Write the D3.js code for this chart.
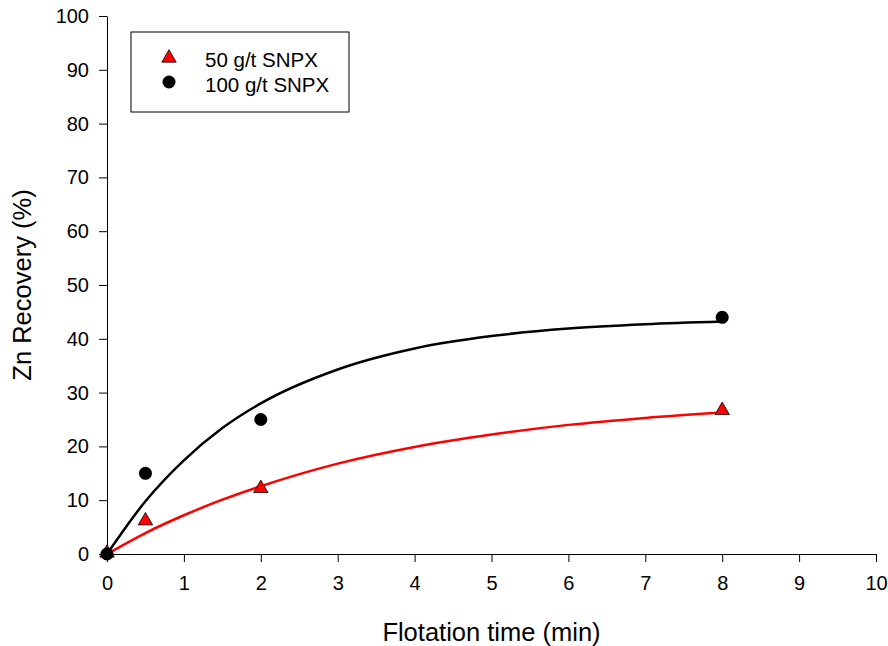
<!DOCTYPE html>
<html>
<head>
<meta charset="utf-8">
<script src="https://cdn.jsdelivr.net/npm/d3@7"></script>
<style>
  body { margin: 0; background: #fff; }
  svg { display: block; font-family: "Liberation Sans", Arial, sans-serif; }
  .tick text { font-size: 20px; fill: #000; }
  .tick line, .domain { stroke: #000; stroke-width: 1; }
</style>
</head>
<body>
<div id="chart"></div>
<script>
// measured points
const times = [0, 0.5, 2, 8];
const low = [0, 6, 12, 26.5];     // 50 g/t SNPX
const high = [0, 15, 25, 44];     // 100 g/t SNPX

// fitted curves
const fitTimes = [0, 0.5, 1, 1.5, 2, 3, 4, 5, 6, 7, 8];
const lowFit = [0, 3.9, 7.2, 10.1, 12.6, 16.8, 19.9, 22.2, 24.0, 25.3, 26.3];
const highFit = [0, 9.8, 17.4, 23.4, 28.0, 34.3, 38.2, 40.5, 41.9, 42.7, 43.2];

const xTicks = d3.range(0, 11, 1);
const yTicks = d3.range(0, 101, 10);

const width = 888;
const height = 646;
const margin = { top: 16, right: 12, bottom: 92, left: 107 };

const svg = d3.select('#chart')
  .append('svg')
  .attr('width', width)
  .attr('height', height);

const x = d3.scaleLinear().domain([0, 10]).range([margin.left, width - margin.right]);
const y = d3.scaleLinear().domain([0, 100]).range([height - margin.bottom, margin.top]);

svg.append('g')
  .attr('transform', `translate(0,${y(0)})`)
  .call(d3.axisBottom(x).tickValues(xTicks).tickSize(8).tickSizeOuter(0).tickPadding(14))
  .call((g) => g.selectAll('.tick text').attr('dy', '0.71em'));

svg.append('g')
  .attr('transform', `translate(${x(0)},0)`)
  .call(d3.axisLeft(y).tickValues(yTicks).tickSize(8).tickSizeOuter(0).tickPadding(10));

svg.append('text')
  .attr('x', (x(0) + x(10)) / 2)
  .attr('y', 641)
  .attr('text-anchor', 'middle')
  .attr('font-size', 25.5)
  .text('Flotation time (min)');

svg.append('text')
  .attr('transform', `translate(31,${(y(0) + y(100)) / 2}) rotate(-90)`)
  .attr('text-anchor', 'middle')
  .attr('font-size', 25.5)
  .text('Zn Recovery (%)');

const line = d3.line()
  .x((d) => x(d[0]))
  .y((d) => y(d[1]))
  .curve(d3.curveMonotoneX);

svg.append('path')
  .datum(fitTimes.map((t, i) => [t, lowFit[i]]))
  .attr('fill', 'none')
  .attr('stroke', '#ff0000')
  .attr('stroke-width', 2.5)
  .attr('d', line);

svg.append('path')
  .datum(fitTimes.map((t, i) => [t, highFit[i]]))
  .attr('fill', 'none')
  .attr('stroke', '#000')
  .attr('stroke-width', 2.5)
  .attr('d', line);

const triangle = d3.symbol().type(d3.symbolTriangle).size(90);

svg.append('g')
  .selectAll('path')
  .data(times.map((t, i) => [t, low[i]]))
  .join('path')
  .attr('d', triangle)
  .attr('transform', (d) => `translate(${x(d[0])},${y(d[1]) - 1})`)
  .attr('fill', '#ff0000')
  .attr('stroke', '#000')
  .attr('stroke-width', 0.8);

svg.append('g')
  .selectAll('circle')
  .data(times.map((t, i) => [t, high[i]]))
  .join('circle')
  .attr('cx', (d) => x(d[0]))
  .attr('cy', (d) => y(d[1]))
  .attr('r', 6.5)
  .attr('fill', '#000');

// legend
const legend = svg.append('g');
legend.append('rect')
  .attr('x', 131)
  .attr('y', 32)
  .attr('width', 218)
  .attr('height', 80)
  .attr('fill', '#fff')
  .attr('stroke', '#000')
  .attr('stroke-width', 1);

legend.append('path')
  .attr('d', triangle)
  .attr('transform', 'translate(169,58)')
  .attr('fill', '#ff0000')
  .attr('stroke', '#000')
  .attr('stroke-width', 0.8);

legend.append('circle')
  .attr('cx', 169)
  .attr('cy', 82)
  .attr('r', 6.5)
  .attr('fill', '#000');

legend.append('text')
  .attr('x', 205)
  .attr('y', 67)
  .attr('font-size', 20.5)
  .text('50 g/t SNPX');

legend.append('text')
  .attr('x', 205)
  .attr('y', 92)
  .attr('font-size', 20.5)
  .text('100 g/t SNPX');
</script>
</body>
</html>
